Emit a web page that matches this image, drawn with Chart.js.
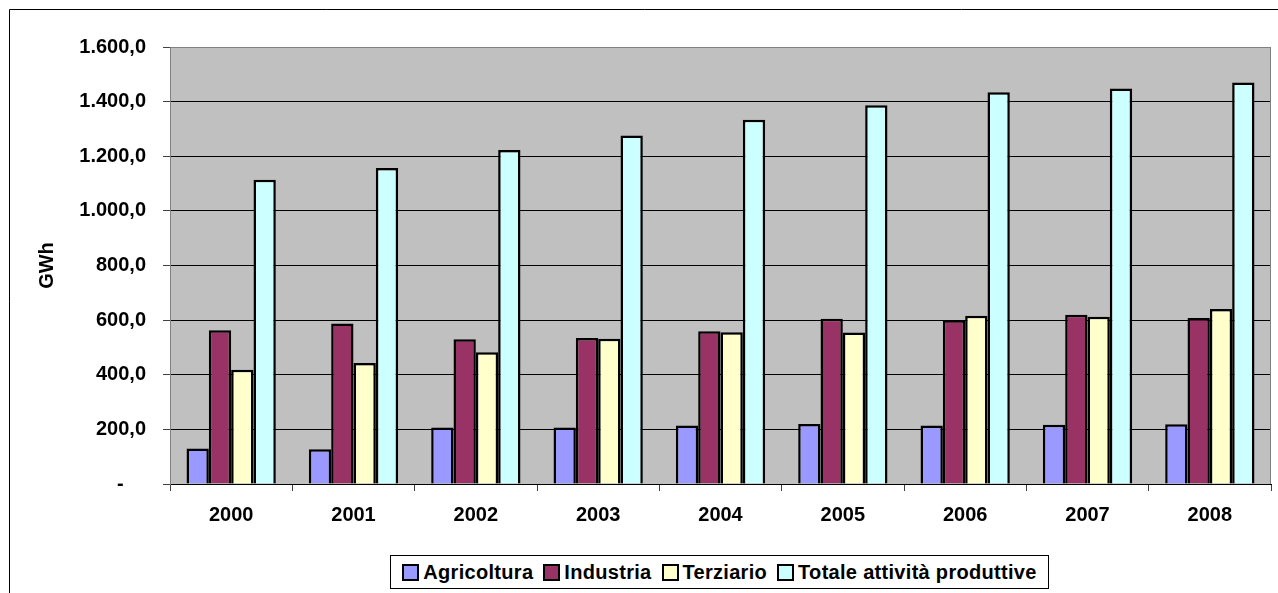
<!DOCTYPE html>
<html lang="it">
<head>
<meta charset="utf-8">
<title>Consumi elettrici per settore</title>
<script src="https://cdn.jsdelivr.net/npm/chart.js@4/dist/chart.umd.min.js"></script>
<style>
  html, body { margin: 0; padding: 0; background: #fff; overflow: hidden; }
  #wrap { position: relative; width: 1278px; height: 593px; }
  #chart { position: absolute; left: 0; top: 0; }
  #legend {
    position: absolute; left: 390px; top: 555px; width: 659px; height: 34px;
    border: 1px solid #000; background: #fff; box-sizing: border-box;
    display: flex; align-items: center; justify-content: center;
    font: bold 20px "Liberation Sans", Arial, sans-serif; color: #000;
  }
  #legend .item { display: flex; align-items: center; margin: 0 5px; }
  #legend .box { width: 13px; height: 13px; border: 2px solid #000; margin-right: 4px; }
</style>
</head>
<body>
<div id="wrap">
  <canvas id="chart" width="1278" height="593"></canvas>
  <div id="legend"></div>
</div>
<script>
// Data
const years = ['2000', '2001', '2002', '2003', '2004', '2005', '2006', '2007', '2008'];
const agricoltura = [130, 127, 207, 207, 214, 220, 214, 217, 219];
const industria = [563, 588, 530, 535, 559, 605, 600, 620, 608];
const terziario = [418, 443, 482, 532, 556, 555, 616, 612, 641];
const totale = [1114, 1157, 1223, 1276, 1334, 1387, 1434, 1448, 1470];

const seriesNames = ['Agricoltura', 'Industria', 'Terziario', 'Totale attività produttive'];
const seriesColors = ['#9999FF', '#993366', '#FFFFCC', '#CCFFFF'];
const seriesData = [agricoltura, industria, terziario, totale];

const FONT = '"Liberation Sans", Arial, sans-serif';

// 1600 -> "1.600,0", 0 -> "-"
function fmtGWh(v) {
  if (v === 0) return '-' + '\u00a0'.repeat(4);
  const s = String(Math.round(v)).replace(/\B(?=(\d{3})+(?!\d))/g, '.');
  return s + ',0';
}

// gray plot background, plot border and outer frame
const plotFrame = {
  id: 'plotFrame',
  beforeDraw(chart) {
    const { ctx, chartArea: a } = chart;
    ctx.save();
    ctx.fillStyle = '#C0C0C0';
    ctx.fillRect(a.left, a.top, a.right - a.left, a.bottom - a.top);
    ctx.strokeStyle = '#000';
    ctx.lineWidth = 1;
    ctx.beginPath();
    ctx.moveTo(9.5, 600);
    ctx.lineTo(9.5, 9.5);
    ctx.lineTo(1300, 9.5);
    ctx.stroke();
    ctx.restore();
  },
  beforeDatasetsDraw(chart) {
    const { ctx, chartArea: a } = chart;
    ctx.save();
    ctx.strokeStyle = '#808080';
    ctx.lineWidth = 1;
    ctx.beginPath();
    ctx.moveTo(a.right - 0.5, a.top);
    ctx.lineTo(a.right - 0.5, a.bottom);
    ctx.stroke();
    ctx.restore();
  }
};

const chart = new Chart(document.getElementById('chart'), {
  type: 'bar',
  data: {
    labels: years,
    datasets: seriesNames.map((name, i) => ({
      label: name,
      data: seriesData[i],
      backgroundColor: seriesColors[i],
      borderColor: '#000',
      borderWidth: 2.5,
      borderSkipped: 'bottom',
      categoryPercentage: 0.73,
      barPercentage: 1.0,
    })),
  },
  options: {
    responsive: false,
    animation: false,
    layout: { padding: { top: 47, right: 7, left: 0, bottom: 0 } },
    plugins: {
      legend: { display: false },
      tooltip: { enabled: false },
    },
    scales: {
      x: {
        afterFit: s => { s.height = 109; },
        grid: {
          drawOnChartArea: false,
          drawTicks: true,
          tickLength: 7,
          tickColor: '#404040',
        },
        border: { color: '#000' },
        ticks: {
          color: '#000',
          padding: 12,
          font: { family: FONT, size: 20, weight: 'bold' },
          maxRotation: 0,
        },
      },
      y: {
        min: 0,
        max: 1600,
        afterFit: s => { s.width = 170; },
        grid: {
          color: ctx => (ctx.tick && ctx.tick.value === 1600 ? '#808080' : '#000'),
          tickLength: 7,
          tickColor: '#404040',
        },
        border: { color: '#808080' },
        ticks: {
          stepSize: 200,
          color: '#000',
          padding: 17,
          font: { family: FONT, size: 20, weight: 'bold' },
          callback: v => fmtGWh(v),
        },
        title: {
          display: true,
          text: 'GWh',
          color: '#000',
          padding: { top: 35, bottom: 0 },
          font: { family: FONT, size: 20, weight: 'bold' },
        },
      },
    },
  },
  plugins: [plotFrame],
});

// Legend built from the datasets
const legendEl = document.getElementById('legend');
chart.data.datasets.forEach(ds => {
  const item = document.createElement('span');
  item.className = 'item';
  const box = document.createElement('span');
  box.className = 'box';
  box.style.background = ds.backgroundColor;
  const txt = document.createElement('span');
  txt.textContent = ds.label;
  txt.style.letterSpacing = '0.3px';
  item.appendChild(box);
  item.appendChild(txt);
  legendEl.appendChild(item);
});
</script>
</body>
</html>
